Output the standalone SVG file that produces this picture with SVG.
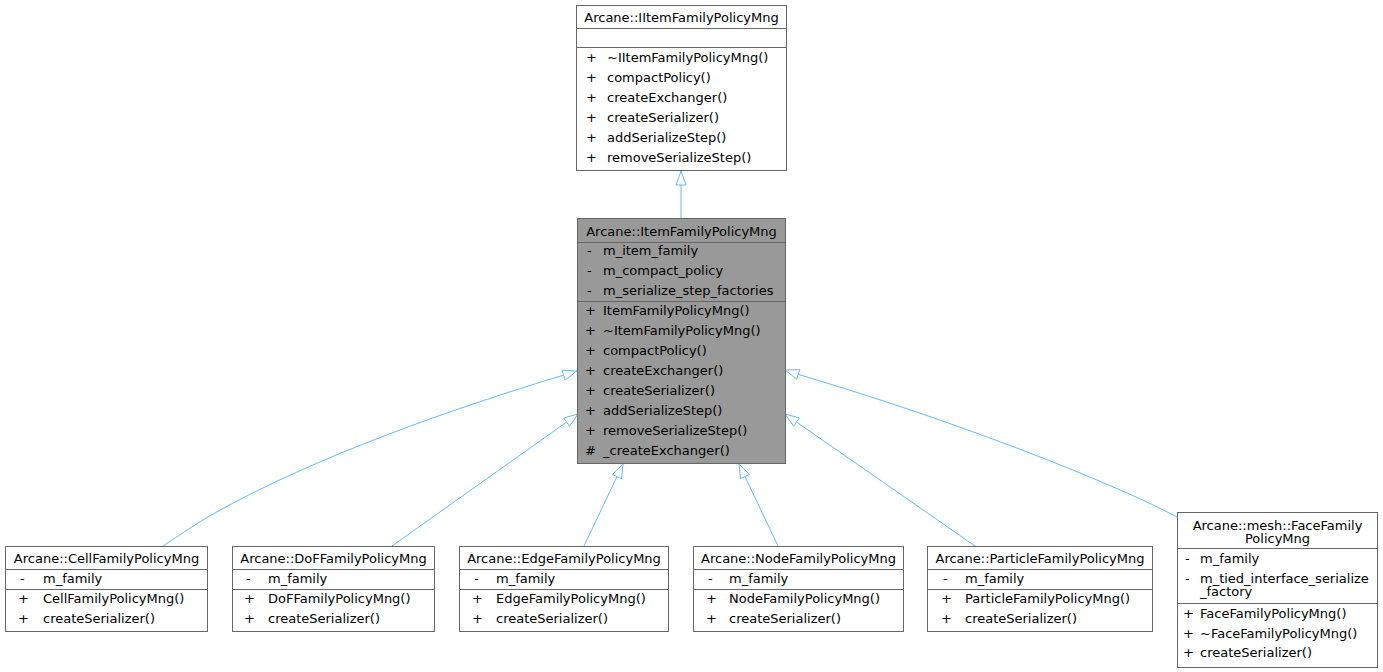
<svg xmlns="http://www.w3.org/2000/svg" width="1383" height="672" viewBox="0 0 1383 672">
<style>
.box{fill:#ffffff;stroke:#666666;stroke-width:1}
.boxg{fill:#999999;stroke:#666666;stroke-width:1}
.sep{stroke:#666666;stroke-width:1}
text{font-family:"DejaVu Sans",sans-serif;font-size:13px;fill:#000000}
.c{text-anchor:middle}
.e{fill:none;stroke:#63b8ff;stroke-width:1}
.ah{fill:#ffffff;stroke:#63b8ff;stroke-width:1}
</style>
<rect width="1383" height="672" fill="#ffffff"/>
<g id="edges">
<path class="e" d="M681,218 L681,185"/>
<polygon class="ah" points="681,171 676,185 686,185"/>
<path class="e" d="M163,546 C180,535 195,524 213,514 C316,456 455,408 563.6,375.1"/>
<polygon class="ah" points="577,371 565.1,379.9 562.1,370.3"/>
<path class="e" d="M392,546 L566.6,422.1"/>
<polygon class="ah" points="578,414 569.5,426.2 563.7,418"/>
<path class="e" d="M584,546 L617,476.6"/>
<polygon class="ah" points="623,464 621.5,478.7 612.5,474.5"/>
<path class="e" d="M778,546 L745,476.6"/>
<polygon class="ah" points="739,464 749.5,474.5 740.5,478.7"/>
<path class="e" d="M975,546 L796.5,422"/>
<polygon class="ah" points="785,414 799.4,417.9 793.6,426.1"/>
<path class="e" d="M1177,517 C1160,508 1143,500 1127,493 C1030,450 905,406 798.3,374.4"/>
<polygon class="ah" points="785,370 799.9,369.7 796.7,379.1"/>
</g>
<g id="IItemFamilyPolicyMng">
<rect class="box" x="576.5" y="5.5" width="210" height="165"/>
<line class="sep" x1="576.5" y1="28.5" x2="786.5" y2="28.5"/>
<line class="sep" x1="576.5" y1="47.5" x2="786.5" y2="47.5"/>
<text class="c" x="681.5" y="21.5">Arcane::IItemFamilyPolicyMng</text>
<text x="586" y="61.5">+</text><text x="607" y="61.5">~IItemFamilyPolicyMng()</text>
<text x="586" y="81.5">+</text><text x="607" y="81.5">compactPolicy()</text>
<text x="586" y="101.5">+</text><text x="607" y="101.5">createExchanger()</text>
<text x="586" y="121.5">+</text><text x="607" y="121.5">createSerializer()</text>
<text x="586" y="141.5">+</text><text x="607" y="141.5">addSerializeStep()</text>
<text x="586" y="161.5">+</text><text x="607" y="161.5">removeSerializeStep()</text>
</g>
<g id="ItemFamilyPolicyMng">
<rect class="boxg" x="577.5" y="218.5" width="208" height="245"/>
<line class="sep" x1="577.5" y1="242.5" x2="785.5" y2="242.5"/>
<line class="sep" x1="577.5" y1="301.5" x2="785.5" y2="301.5"/>
<text class="c" x="681.5" y="235.5">Arcane::ItemFamilyPolicyMng</text>
<text x="587" y="255">-</text><text x="603" y="255">m_item_family</text>
<text x="587" y="275">-</text><text x="603" y="275">m_compact_policy</text>
<text x="587" y="295">-</text><text x="603" y="295">m_serialize_step_factories</text>
<text x="585" y="315">+</text><text x="603" y="315">ItemFamilyPolicyMng()</text>
<text x="585" y="335">+</text><text x="603" y="335">~ItemFamilyPolicyMng()</text>
<text x="585" y="355">+</text><text x="603" y="355">compactPolicy()</text>
<text x="585" y="375">+</text><text x="603" y="375">createExchanger()</text>
<text x="585" y="395">+</text><text x="603" y="395">createSerializer()</text>
<text x="585" y="415">+</text><text x="603" y="415">addSerializeStep()</text>
<text x="585" y="435">+</text><text x="603" y="435">removeSerializeStep()</text>
<text x="585" y="455">#</text><text x="603" y="455">_createExchanger()</text>
</g>
<g id="CellFamilyPolicyMng">
<rect class="box" x="5.5" y="546.5" width="202" height="85"/>
<line class="sep" x1="5.5" y1="569.5" x2="207.5" y2="569.5"/>
<line class="sep" x1="5.5" y1="589.5" x2="207.5" y2="589.5"/>
<text class="c" x="106.5" y="562.5">Arcane::CellFamilyPolicyMng</text>
<text x="20" y="582.5">-</text><text x="43" y="582.5">m_family</text>
<text x="18" y="602.5">+</text><text x="43" y="602.5">CellFamilyPolicyMng()</text>
<text x="18" y="622.5">+</text><text x="43" y="622.5">createSerializer()</text>
</g>
<g id="DoFFamilyPolicyMng">
<rect class="box" x="232.5" y="546.5" width="202" height="85"/>
<line class="sep" x1="232.5" y1="569.5" x2="434.5" y2="569.5"/>
<line class="sep" x1="232.5" y1="589.5" x2="434.5" y2="589.5"/>
<text class="c" x="333.5" y="562.5">Arcane::DoFFamilyPolicyMng</text>
<text x="246" y="582.5">-</text><text x="268" y="582.5">m_family</text>
<text x="244" y="602.5">+</text><text x="268" y="602.5">DoFFamilyPolicyMng()</text>
<text x="244" y="622.5">+</text><text x="268" y="622.5">createSerializer()</text>
</g>
<g id="EdgeFamilyPolicyMng">
<rect class="box" x="459.5" y="546.5" width="209" height="85"/>
<line class="sep" x1="459.5" y1="569.5" x2="668.5" y2="569.5"/>
<line class="sep" x1="459.5" y1="589.5" x2="668.5" y2="589.5"/>
<text class="c" x="564" y="562.5">Arcane::EdgeFamilyPolicyMng</text>
<text x="474" y="582.5">-</text><text x="496" y="582.5">m_family</text>
<text x="472" y="602.5">+</text><text x="496" y="602.5">EdgeFamilyPolicyMng()</text>
<text x="472" y="622.5">+</text><text x="496" y="622.5">createSerializer()</text>
</g>
<g id="NodeFamilyPolicyMng">
<rect class="box" x="693.5" y="546.5" width="210" height="85"/>
<line class="sep" x1="693.5" y1="569.5" x2="903.5" y2="569.5"/>
<line class="sep" x1="693.5" y1="589.5" x2="903.5" y2="589.5"/>
<text class="c" x="798.5" y="562.5">Arcane::NodeFamilyPolicyMng</text>
<text x="708" y="582.5">-</text><text x="729" y="582.5">m_family</text>
<text x="706" y="602.5">+</text><text x="729" y="602.5">NodeFamilyPolicyMng()</text>
<text x="706" y="622.5">+</text><text x="729" y="622.5">createSerializer()</text>
</g>
<g id="ParticleFamilyPolicyMng">
<rect class="box" x="927.5" y="546.5" width="225" height="85"/>
<line class="sep" x1="927.5" y1="569.5" x2="1152.5" y2="569.5"/>
<line class="sep" x1="927.5" y1="589.5" x2="1152.5" y2="589.5"/>
<text class="c" x="1040" y="562.5">Arcane::ParticleFamilyPolicyMng</text>
<text x="943" y="582.5">-</text><text x="965" y="582.5">m_family</text>
<text x="941" y="602.5">+</text><text x="965" y="602.5">ParticleFamilyPolicyMng()</text>
<text x="941" y="622.5">+</text><text x="965" y="622.5">createSerializer()</text>
</g>
<g id="FaceFamilyPolicyMng">
<rect class="box" x="1177.5" y="512.5" width="200" height="155"/>
<line class="sep" x1="1177.5" y1="548.5" x2="1377.5" y2="548.5"/>
<line class="sep" x1="1177.5" y1="603.5" x2="1377.5" y2="603.5"/>
<text class="c" x="1277.5" y="529.5">Arcane::mesh::FaceFamily</text>
<text class="c" x="1277.5" y="543">PolicyMng</text>
<text x="1185" y="562.5">-</text><text x="1200" y="562.5">m_family</text>
<text x="1185" y="582.5">-</text><text x="1200" y="582.5">m_tied_interface_serialize</text>
<text x="1200" y="596">_factory</text>
<text x="1183" y="617.5">+</text><text x="1200" y="617.5">FaceFamilyPolicyMng()</text>
<text x="1183" y="637.5">+</text><text x="1200" y="637.5">~FaceFamilyPolicyMng()</text>
<text x="1183" y="657">+</text><text x="1200" y="657">createSerializer()</text>
</g>
</svg>
